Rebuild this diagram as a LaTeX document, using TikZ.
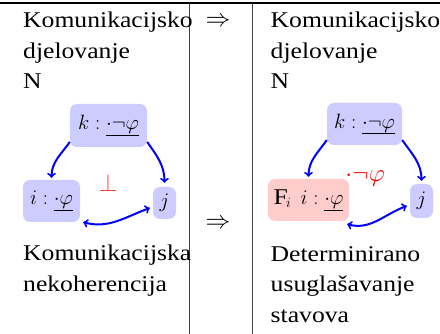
\documentclass[tikz,border=0pt]{standalone}
\usepackage{fontspec}
\setmainfont[FakeStretch=1.14]{Liberation Serif}
\usetikzlibrary{calc}
\begin{document}
\begin{tikzpicture}[x=1pt,y=-1pt,
  txt/.style={anchor=base west, inner sep=0pt, font=\fontsize{22.5}{30}\selectfont},
  bluebox/.style={rounded corners=7pt, fill=blue!20, inner sep=0pt, font=\fontsize{22.5}{26}\selectfont},
  redbox/.style={bluebox, fill=red!20},
  conn/.style={->, blue, line width=2pt},
  biconn/.style={<->, blue, line width=2pt},
  rule/.style={black!75, line width=0.8pt}]
\useasboundingbox (0,0) rectangle (440,334);
% top rule and column lines
\coordinate (tl) at (0,3);
\coordinate (tr) at (440,3);
\draw[line width=1.2pt] (tl) -- (tr);
\coordinate (v1t) at (189,4); \coordinate (v1b) at (189,334);
\coordinate (v2t) at (252,4); \coordinate (v2b) at (252,334);
\draw[rule] (v1t) -- (v1b);
\draw[rule] (v2t) -- (v2b);
% left texts
\node[txt] (l1) at (23,28) {Komunikacijsko};
\node[txt] (l2) at (23,59) {djelovanje};
\node[txt] (l3) at (23,89) {N};
\node[txt] (l4) at (23,261) {Komunikacijska};
\node[txt] (l5) at (23,292) {nekoherencija};
% arrows in middle
\node[inner sep=0pt, font=\fontsize{28}{32}\selectfont] (m1) at (218,22) {$\Rightarrow$};
\node[inner sep=0pt, font=\fontsize{28}{32}\selectfont] (m2) at (218,224) {$\Rightarrow$};
% right texts
\node[txt] (r1) at (270.5,28) {Komunikacijsko};
\node[txt] (r2) at (270.5,59) {djelovanje};
\node[txt] (r3) at (270.5,89) {N};
\node[txt] (r4) at (270.5,262) {Determinirano};
\node[txt] (r5) at (270.5,292) {usuglašavanje};
\node[txt] (r6) at (270.5,323) {stavova};
% left diagram
\node[bluebox, minimum width=77pt, minimum height=43pt] (k) at (108.5,125.5) {$k:\underline{\cdot\neg\varphi}$};
\node[bluebox, minimum width=57pt, minimum height=42pt] (i) at (51.5,201) {$i:\underline{\cdot\varphi}$};
\node[bluebox, minimum width=23pt, minimum height=32pt] (j) at (164.5,203) {$j$};
\node[text=red!75, inner sep=0pt, font=\fontsize{26}{30}\selectfont] (bot) at (108,183) {$\bot$};
\draw[conn] (k.203) to[out=235, in=90] ($(i.north)+(0,-2)$);
\draw[conn] (k.337) to[out=-55, in=90] ($(j.north)+(0,-4)$);
\draw[biconn] ($(i.south east)+(3,0)$) to[out=-15, in=200] ($(j.west)+(-3,5)$);
% right diagram
\node[bluebox, minimum width=75pt, minimum height=42pt] (k2) at (364.5,124) {$k:\underline{\cdot\neg\varphi}$};
\node[redbox, minimum width=81pt, minimum height=42pt] (f2) at (308.5,200) {$\mathrm{F}_{i}\;\, i:\underline{\cdot\varphi}$};
\node[bluebox, minimum width=23pt, minimum height=34pt] (j2) at (421.5,201) {$j$};
\node[text=red, inner sep=0pt, font=\fontsize{32}{36}\selectfont] (neg) at (365,178) {$\cdot\neg\varphi$};
\draw[conn] (k2.203) to[out=235, in=90] ($(f2.north)+(0,-2)$);
\draw[conn] (k2.337) to[out=-55, in=90] ($(j2.north)+(0,-3)$);
\draw[biconn] ($(f2.south east)+(-2,3)$) to[out=-15, in=200] ($(j2.west)+(-3,5)$);
\end{tikzpicture}
\end{document}
